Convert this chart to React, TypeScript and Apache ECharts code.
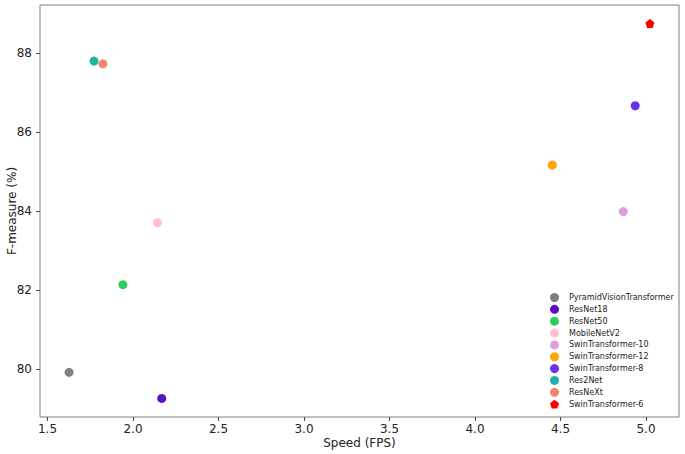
import React, { useEffect, useRef } from "react";
import * as echarts from "echarts";

const models = [
  "PyramidVisionTransformer",
  "ResNet18",
  "ResNet50",
  "MobileNetV2",
  "SwinTransformer-10",
  "SwinTransformer-12",
  "SwinTransformer-8",
  "Res2Net",
  "ResNeXt",
  "SwinTransformer-6",
];
const speeds = [1.626, 2.168, 1.941, 2.143, 4.867, 4.452, 4.937, 1.772, 1.824, 5.023];
const fmeasures = [79.92, 79.26, 82.14, 83.71, 83.99, 85.17, 86.67, 87.8, 87.73, 88.75];
const colors = [
  "#808080",
  "#5a0fc8",
  "#2ecc5f",
  "#ffc0cb",
  "#dda0dd",
  "#ffa500",
  "#6a32e6",
  "#20b2aa",
  "#f0876a",
  "#ff0000",
];
const xTicks = [1.5, 2.0, 2.5, 3.0, 3.5, 4.0, 4.5, 5.0];
const yTicks = [80, 82, 84, 86, 88];

const pentagon = "path://M50,0 L97.55,34.55 L79.39,90.45 L20.61,90.45 L2.45,34.55 Z";

export default function App() {
  const ref = useRef<HTMLDivElement>(null);
  useEffect(() => {
    document.body.style.margin = "0";
    if (!ref.current) return;
    const chart = echarts.init(ref.current, undefined, { renderer: "svg" });
    const series = models.map((name, i) => ({
      name,
      type: "scatter",
      symbol: i === models.length - 1 ? pentagon : "circle",
      symbolSize: 9,
      itemStyle: { color: colors[i], opacity: 1 },
      data: [[speeds[i], fmeasures[i]]],
      emphasis: { disabled: true },
    }));
    chart.setOption({
      animation: false,
      backgroundColor: "#ffffff",
      textStyle: { fontFamily: "DejaVu Sans" },
      grid: {
        left: 40,
        right: 6,
        top: 5,
        bottom: 37,
        containLabel: false,
        outerBoundsMode: "none",
        show: true,
        borderColor: "#7f7f7f",
        borderWidth: 1,
        backgroundColor: "transparent",
      },
      xAxis: {
        type: "value",
        min: 1.456,
        max: 5.193,
        name: "Speed (FPS)",
        nameLocation: "middle",
        nameGap: 20,
        nameMoveOverlap: false,
        nameTextStyle: { fontSize: 12, color: "#222", fontFamily: "DejaVu Sans" },
        axisLine: { show: false },
        splitLine: { show: false },
        axisTick: {
          show: true,
          inside: false,
          length: 4,
          customValues: xTicks,
          lineStyle: { color: "#444" },
        },
        axisLabel: {
          customValues: xTicks,
          formatter: (v: number) => v.toFixed(1),
          fontSize: 12,
          color: "#222",
          margin: 6,
          fontFamily: "DejaVu Sans",
        },
      },
      yAxis: {
        type: "value",
        min: 78.79,
        max: 89.22,
        name: "F-measure (%)",
        nameLocation: "middle",
        nameGap: 22,
        nameMoveOverlap: false,
        nameTextStyle: { fontSize: 12, color: "#222", fontFamily: "DejaVu Sans" },
        axisLine: { show: false },
        splitLine: { show: false },
        axisTick: {
          show: true,
          inside: false,
          length: 4,
          customValues: yTicks,
          lineStyle: { color: "#444" },
        },
        axisLabel: {
          customValues: yTicks,
          formatter: (v: number) => String(Math.round(v)),
          fontSize: 12,
          color: "#222",
          margin: 8,
          fontFamily: "DejaVu Sans",
        },
      },
      legend: {
        orient: "vertical",
        left: 550,
        top: 293,
        itemWidth: 9,
        itemHeight: 9,
        itemGap: 2.85,
        padding: 0,
        icon: "circle",
        data: models.map((name, i) => ({
          name,
          icon: i === models.length - 1 ? pentagon : "circle",
        })),
        textStyle: {
          fontSize: 8,
          lineHeight: 9,
          color: "#222",
          fontFamily: "DejaVu Sans",
          padding: [0, 0, 0, 5],
        },
        selectedMode: false,
      },
      series,
    });
    return () => chart.dispose();
  }, []);
  return <div ref={ref} style={{ width: 685, height: 454 }} />;
}
